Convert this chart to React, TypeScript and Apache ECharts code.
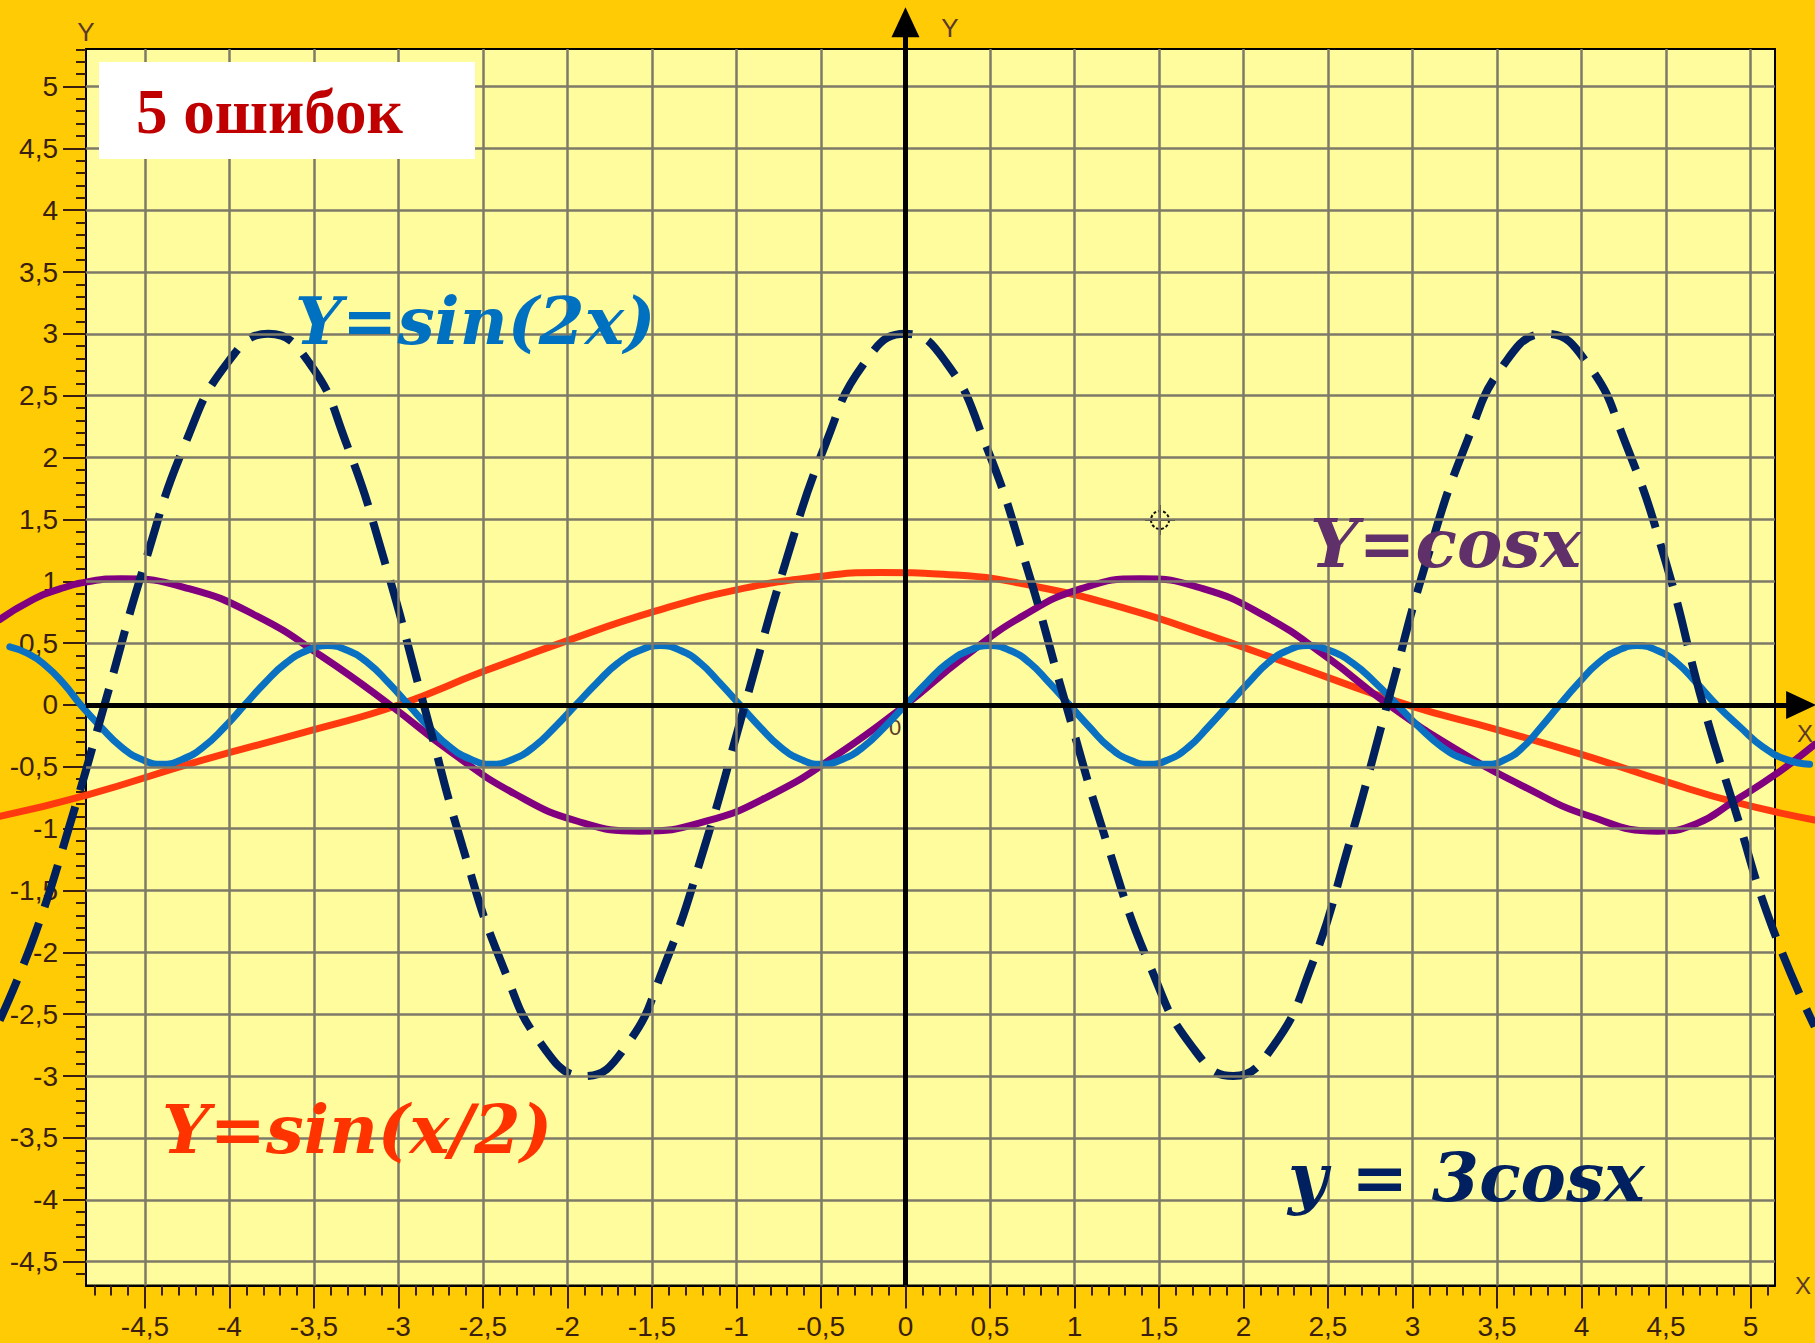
import React, { useEffect, useRef } from "react";
import * as echarts from "echarts";

// Axis tick labels (values) for the framed plot
const xTickValues = [-4.5, -4, -3.5, -3, -2.5, -2, -1.5, -1, -0.5, 0, 0.5, 1, 1.5, 2, 2.5, 3, 3.5, 4, 4.5, 5];
const yTickValues = [-4.5, -4, -3.5, -3, -2.5, -2, -1.5, -1, -0.5, 0, 0.5, 1, 1.5, 2, 2.5, 3, 3.5, 4, 4.5, 5];

// Frame extents of the plot (axis ranges)
const X_MIN = -4.849, X_MAX = 5.145, Y_MIN = -4.693, Y_MAX = 5.303;

// Curve labels
const labelSin2x = "Y=sin(2x)";
const labelCos = "Y=cosx";
const labelSinHalf = "Y=sin(x/2)";
const label3Cos = "y = 3cosx";
const labelErrors = "5 ошибок";

// Purple curve
const purpleX = [-5.36, -5.18, -5.0, -4.82, -4.64, -4.24, -3.84, -3.45, -3.05, -2.68, -2.31, -1.94, -1.57, -1.18, -0.785, -0.39, 0, 0.35, 0.695, 1.04, 1.39, 1.76, 2.125, 2.49, 2.86, 3.26, 3.66, 4.05, 4.45, 4.68, 4.9, 5.15, 5.38];
const purpleY = [0.69, 0.84, 0.94, 1.0, 1.02, 0.94, 0.72, 0.39, 0, -0.39, -0.72, -0.94, -1.02, -0.94, -0.72, -0.39, 0, 0.39, 0.72, 0.94, 1.02, 0.94, 0.72, 0.39, 0, -0.36, -0.66, -0.9, -1.02, -0.96, -0.78, -0.56, -0.32];

// Blue curve
const blueX = [-5.3, -5.2, -5.09, -4.98, -4.88, -4.76, -4.64, -4.52, -4.4, -4.28, -4.155, -4.03, -3.91, -3.79, -3.665, -3.54, -3.42, -3.3, -3.18, -3.06, -2.94, -2.82, -2.695, -2.57, -2.45, -2.325, -2.2, -2.075, -1.95, -1.825, -1.7, -1.575, -1.45, -1.33, -1.215, -1.1, -0.98, -0.86, -0.74, -0.62, -0.5, -0.375, -0.25, -0.125, 0, 0.125, 0.25, 0.375, 0.5, 0.62, 0.735, 0.85, 0.97, 1.09, 1.205, 1.32, 1.44, 1.56, 1.675, 1.79, 1.91, 2.03, 2.145, 2.26, 2.38, 2.51, 2.645, 2.78, 2.91, 3.04, 3.175, 3.31, 3.44, 3.55, 3.655, 3.76, 3.87, 3.985, 4.1, 4.215, 4.33, 4.45, 4.565, 4.68, 4.8, 4.94, 5.075, 5.21, 5.35];
const blueY = [0.47, 0.42, 0.32, 0.17, 0, -0.18, -0.34, -0.44, -0.48, -0.44, -0.34, -0.18, 0, 0.18, 0.34, 0.44, 0.48, 0.44, 0.34, 0.18, 0, -0.18, -0.34, -0.44, -0.48, -0.44, -0.34, -0.18, 0, 0.18, 0.34, 0.44, 0.48, 0.44, 0.34, 0.18, 0, -0.18, -0.34, -0.44, -0.48, -0.44, -0.34, -0.18, 0, 0.18, 0.34, 0.44, 0.48, 0.44, 0.34, 0.18, 0, -0.18, -0.34, -0.44, -0.48, -0.44, -0.34, -0.18, 0, 0.18, 0.34, 0.44, 0.48, 0.44, 0.34, 0.18, 0, -0.18, -0.34, -0.44, -0.48, -0.44, -0.34, -0.18, 0, 0.18, 0.34, 0.44, 0.48, 0.44, 0.34, 0.18, 0, -0.18, -0.34, -0.44, -0.48];

// Red curve
const redX = [-5.36, -4.85, -4.17, -3.5, -3.0, -2.5, -2.0, -1.5, -1.0, -0.5, -0.15, 0.3, 0.8, 1.3, 1.8, 2.3, 2.97, 3.5, 4.0, 4.5, 4.92, 5.38];
const redY = [-0.9, -0.73, -0.45, -0.2, 0.0, 0.27, 0.52, 0.75, 0.93, 1.04, 1.07, 1.05, 0.95, 0.78, 0.56, 0.32, 0.0, -0.2, -0.4, -0.62, -0.79, -0.93];

// Navy dashed curve
const navyX = [-5.36, -5.15, -4.93, -4.74, -4.5, -4.26, -4.01, -3.77, -3.53, -3.31, -3.08, -2.85, -2.62, -2.38, -2.14, -1.9, -1.66, -1.43, -1.19, -0.95, -0.71, -0.47, -0.24, 0, 0.24, 0.47, 0.71, 0.95, 1.2, 1.45, 1.7, 1.94, 2.17, 2.4, 2.62, 2.85, 3.08, 3.32, 3.55, 3.79, 4.03, 4.26, 4.5, 4.72, 4.91, 5.13, 5.38];
const navyY = [-2.55, -1.85, -0.9, 0, 1.15, 2.12, 2.77, 3.0, 2.77, 2.12, 1.15, 0, -1.15, -2.12, -2.77, -3.0, -2.77, -2.12, -1.15, 0, 1.15, 2.12, 2.77, 3.0, 2.77, 2.12, 1.15, 0, -1.15, -2.12, -2.77, -3.0, -2.77, -2.12, -1.15, 0, 1.15, 2.12, 2.77, 3.0, 2.77, 2.12, 1.15, 0, -0.85, -1.8, -2.6];

const pairs = (xs: number[], ys: number[]) => xs.map((x, i) => [x, ys[i]]);
const fmt = (v: number) => String(v).replace(".", ",");
const minorValues = (lo: number, hi: number) => {
  const out: number[] = [];
  for (let k = Math.ceil(lo * 10); k <= Math.floor(hi * 10); k++) if (k % 5 !== 0) out.push(k / 10);
  return out;
};

const RULER = "#3a1f0f";
const GRIDC = "#7e7a68";
const LABEL_FONT = "Liberation Sans";

export default function App() {
  const ref = useRef<HTMLDivElement>(null);
  useEffect(() => {
    if (!ref.current) return;
    const chart = echarts.init(ref.current, null, { renderer: "svg" });
    const tickStyle = { color: RULER, width: 2 };
    const labelStyle = { fontSize: 28, fontFamily: LABEL_FONT, color: RULER };
    chart.setOption({
      animation: false,
      backgroundColor: "#FFCB04",
      grid: [
        { left: 86, top: 49, width: 1689, height: 1236.5, show: true, backgroundColor: "#FEFC9C", borderColor: "#000", borderWidth: 2 },
        { left: 0, top: 0, width: 1815, height: 1343 },
      ],
      xAxis: [
        {
          type: "value", gridIndex: 0, position: "bottom", min: X_MIN, max: X_MAX,
          name: "X", nameLocation: "end", nameGap: 20,
          nameTextStyle: { color: "#5a3a28", fontSize: 24, fontFamily: LABEL_FONT },
          axisLine: { show: true, onZero: false, lineStyle: { color: "#000", width: 2 } },
          axisTick: { show: true, length: 23, lineStyle: tickStyle, customValues: xTickValues },
          axisLabel: { customValues: xTickValues, formatter: fmt, margin: 27, ...labelStyle },
          splitLine: { show: false },
          minorTick: { show: false },
        },
        { type: "value", gridIndex: 1, min: -5.358, max: 5.382, show: false },
        {
          type: "value", gridIndex: 0, position: "bottom", min: X_MIN, max: X_MAX,
          axisLine: { show: false, onZero: false },
          axisTick: { show: true, length: 10, lineStyle: tickStyle, customValues: minorValues(X_MIN, X_MAX) },
          axisLabel: { show: false },
          splitLine: { show: false },
        },
      ],
      yAxis: [
        {
          type: "value", gridIndex: 0, position: "left", min: Y_MIN, max: Y_MAX,
          name: "Y", nameLocation: "end", nameGap: 4,
          nameTextStyle: { color: "#5a3a28", fontSize: 26, fontFamily: LABEL_FONT },
          axisLine: { show: true, onZero: false, lineStyle: { color: "#000", width: 2 } },
          axisTick: { show: true, length: 23, lineStyle: tickStyle, customValues: yTickValues },
          axisLabel: { customValues: yTickValues, formatter: fmt, margin: 28, ...labelStyle },
          splitLine: { show: false },
          minorTick: { show: false },
        },
        { type: "value", gridIndex: 1, min: -5.158, max: 5.699, show: false },
        {
          type: "value", gridIndex: 0, position: "left", min: Y_MIN, max: Y_MAX,
          axisLine: { show: false, onZero: false },
          axisTick: { show: true, length: 10, lineStyle: tickStyle, customValues: minorValues(Y_MIN, Y_MAX) },
          axisLabel: { show: false },
          splitLine: { show: false },
        },
      ],
      series: [
        {
          type: "line", xAxisIndex: 1, yAxisIndex: 1, data: [[0, 0]], showSymbol: false, silent: true,
          lineStyle: { opacity: 0 },
          markLine: {
            silent: true, symbol: ["none", "none"], label: { show: false },
            lineStyle: { color: GRIDC, width: 2.5, type: "solid" },
            data: [
              ...xTickValues.map((x) => [{ coord: [x, Y_MIN] }, { coord: [x, Y_MAX] }]),
              ...yTickValues.map((y) => [{ coord: [X_MIN, y] }, { coord: [X_MAX, y] }]),
            ],
          },
        },
        {
          type: "line", xAxisIndex: 1, yAxisIndex: 1, data: [[0, 0]], showSymbol: false, silent: true,
          lineStyle: { opacity: 0 },
          markLine: {
            silent: true,
            symbol: ["none", "triangle"],
            symbolSize: [28, 30],
            label: { show: false },
            lineStyle: { color: "#000", width: 5, type: "solid" },
            data: [
              [{ coord: [0, Y_MIN] }, { coord: [0, 5.52] }],
              [{ coord: [X_MIN, 0] }, { coord: [5.3, 0] }],
            ],
          },
        },
        {
          type: "line", xAxisIndex: 1, yAxisIndex: 1, data: pairs(redX, redY), smooth: 0.5, showSymbol: false, clip: false,
          lineStyle: { color: "#FF3A0E", width: 7, cap: "round" },
        },
        {
          type: "line", xAxisIndex: 1, yAxisIndex: 1, data: pairs(purpleX, purpleY), smooth: 0.5, showSymbol: false, clip: false,
          lineStyle: { color: "#800080", width: 7, cap: "round" },
        },
        {
          type: "line", xAxisIndex: 1, yAxisIndex: 1, data: pairs(blueX, blueY), smooth: 0.5, showSymbol: false, clip: false,
          lineStyle: { color: "#0A70C2", width: 7, cap: "round" },
        },
        {
          type: "line", xAxisIndex: 1, yAxisIndex: 1, data: pairs(navyX, navyY), smooth: 0.5, showSymbol: false, clip: false,
          lineStyle: { color: "#00215E", width: 8, type: [44, 17], cap: "butt" },
        },
      ],
      graphic: [
        { type: "rect", z: 50, shape: { x: 99, y: 62, width: 376, height: 97 }, style: { fill: "#FFFFFF" } },
        { type: "text", z: 51, x: 136, y: 112, style: { text: labelErrors, font: 'bold 63px "Liberation Serif"', fill: "#C00000", textVerticalAlign: "middle" } },
        { type: "text", z: 51, x: 295, y: 321, style: { text: labelSin2x, font: 'italic bold 66px "DejaVu Serif"', fill: "#0070C0", textVerticalAlign: "middle" } },
        { type: "text", z: 51, x: 1310, y: 543, style: { text: labelCos, font: 'italic bold 68px "DejaVu Serif"', fill: "#60306A", textVerticalAlign: "middle" } },
        { type: "text", z: 51, x: 162, y: 1129, style: { text: labelSinHalf, font: 'italic bold 67px "DejaVu Serif"', fill: "#FF3300", textVerticalAlign: "middle" } },
        { type: "text", z: 51, x: 1288, y: 1177, style: { text: label3Cos, font: 'italic bold 68px "DejaVu Serif"', fill: "#002060", textVerticalAlign: "middle" } },
        { type: "text", z: 51, x: 950, y: 28, style: { text: "Y", font: '26px "Liberation Sans"', fill: "#5a3a28", textAlign: "center", textVerticalAlign: "middle" } },
        { type: "text", z: 51, x: 1805, y: 733, style: { text: "X", font: '24px "Liberation Sans"', fill: "#5a3a28", textAlign: "center", textVerticalAlign: "middle" } },
        { type: "text", z: 1, x: 895, y: 727, style: { text: "0", font: '22px "Liberation Sans"', fill: "#5a3a28", textAlign: "center", textVerticalAlign: "middle" } },
        {
          type: "group", z: 51, x: 1160, y: 520,
          children: [
            { type: "circle", shape: { cx: 0, cy: 0, r: 9 }, style: { fill: "none", stroke: "#111", lineWidth: 2, lineDash: [3, 2] } },
            { type: "line", shape: { x1: -15, y1: 0, x2: 15, y2: 0 }, style: { stroke: "#111", lineWidth: 2 } },
            { type: "line", shape: { x1: 0, y1: -15, x2: 0, y2: 15 }, style: { stroke: "#111", lineWidth: 2 } },
          ],
        },
      ],
    });
    return () => chart.dispose();
  }, []);
  return <div ref={ref} style={{ position: "absolute", left: 0, top: 0, width: 1815, height: 1343 }} />;
}
